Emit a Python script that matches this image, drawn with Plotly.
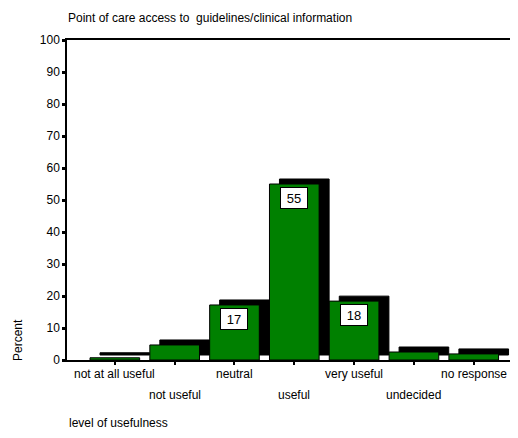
import plotly.graph_objects as go

categories = ["not at all useful", "not useful", "neutral", "useful",
              "very useful", "undecided", "no response"]
percent = [0.7, 4.7, 17.2, 55.0, 18.4, 2.5, 1.9]
label_cats = ["neutral", "useful", "very useful"]
label_vals = [17, 55, 18]
y_ticks = [0, 10, 20, 30, 40, 50, 60, 70, 80, 90, 100]

FONT = "Liberation Sans, Arial, sans-serif"
GREEN = "#008000"
DEPTH_X = 0.167   # 3D shadow offset (category units)
DEPTH_Y = 1.56    # 3D shadow offset (percent units)
BAR_W = 0.83

# page body has an 8px margin; the figure is sized so the plot lands where the reference has it
PAGE_OFF = 8
W, H = 518 - PAGE_OFF, 438 - PAGE_OFF
L, T, PW, PH = 67 - PAGE_OFF, 40 - PAGE_OFF, 451, 320
B = H - T - PH

fig = go.Figure()
# 3D shadow block
fig.add_trace(go.Bar(
    x=categories, y=percent, base=DEPTH_Y,
    width=BAR_W, offset=-BAR_W / 2 + DEPTH_X,
    marker=dict(color="black", line=dict(color="black", width=1)),
    hoverinfo="skip", showlegend=False))
# front bars
fig.add_trace(go.Bar(
    x=categories, y=percent,
    width=BAR_W, offset=-BAR_W / 2,
    marker=dict(color=GREEN, line=dict(color="black", width=1)),
    showlegend=False))

annotations = []
for c, v in zip(label_cats, label_vals):
    idx = categories.index(c)
    annotations.append(dict(
        x=c, y=percent[idx], xref="x", yref="y", yanchor="top", yshift=-3,
        text=str(v), showarrow=False, font=dict(family=FONT, size=13, color="black"),
        bgcolor="white", bordercolor="black", borderwidth=1, borderpad=1,
        width=24, height=18, align="center"))

for i, c in enumerate(categories):
    annotations.append(dict(
        x=c, y=0, xref="x", yref="y", yanchor="middle",
        yshift=-14 if i % 2 == 0 else -35,
        text=c, showarrow=False, font=dict(family=FONT, size=12, color="black")))

annotations.append(dict(
    x=(18 - 67) / PW, y=(360 - 340) / PH, xref="paper", yref="paper",
    xanchor="center", yanchor="middle", textangle=-90, text="Percent",
    showarrow=False, font=dict(family=FONT, size=12, color="black")))
annotations.append(dict(
    x=0, y=(360 - 423) / PH, xref="paper", yref="paper",
    xanchor="left", yanchor="middle", text="level of usefulness",
    showarrow=False, font=dict(family=FONT, size=12, color="black")))

fig.update_layout(
    width=W, height=H,
    margin=dict(l=L, r=0, t=T, b=B),
    paper_bgcolor="white", plot_bgcolor="white",
    barmode="overlay",
    title=dict(text="Point of care access to  guidelines/clinical information",
               x=(68 - PAGE_OFF) / W, y=1 - (18 - PAGE_OFF) / H,
               xanchor="left", yanchor="middle",
               font=dict(family=FONT, size=12, color="black")),
    font=dict(family=FONT, size=12, color="black"),
    annotations=annotations,
    xaxis=dict(type="category", categoryorder="array", categoryarray=categories,
               range=[-0.8, 6.74], showgrid=False, zeroline=False,
               showline=True, linecolor="black", linewidth=1.5, mirror=True,
               ticks="outside", ticklen=3, tickwidth=1.5, tickcolor="black",
               showticklabels=False),
    yaxis=dict(range=[0, 100], tickvals=y_ticks, showgrid=False, zeroline=False,
               showline=True, linecolor="black", linewidth=1.5,
               ticks="outside", ticklen=3, tickwidth=2.5, tickcolor="black",
               tickfont=dict(family=FONT, size=12, color="black")),
)

fig.write_html("out.html")
